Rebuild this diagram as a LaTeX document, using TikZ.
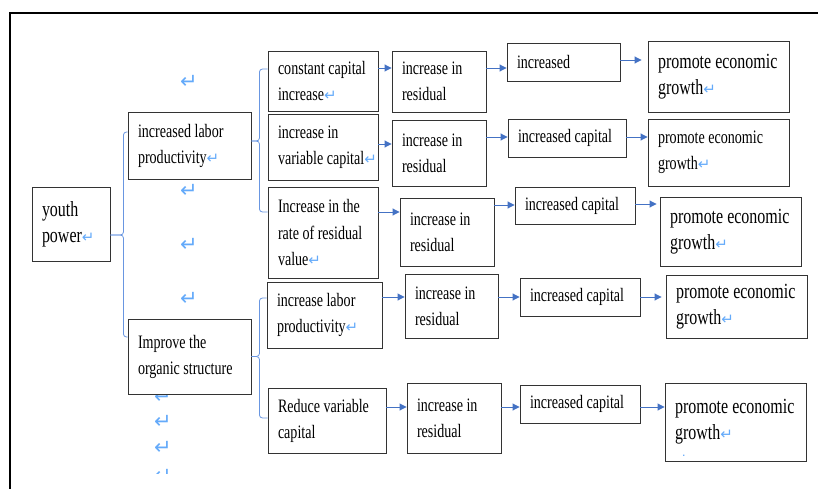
\documentclass[tikz,border=0pt]{standalone}
\usepackage{fontspec}
\setmainfont[FakeStretch=0.74]{Liberation Serif}
\newfontfamily\symfont{DejaVu Sans}
\usetikzlibrary{arrows.meta}

\definecolor{pfeilblau}{RGB}{68,114,196}
\definecolor{klammerblau}{RGB}{105,150,225}
\definecolor{markblau}{RGB}{100,170,250}

\newcommand{\ret}{\rlap{{\symfont\fontsize{15}{15}\selectfont\textcolor{markblau}{↵}}}}

\tikzset{
	feld/.style={draw=black!80, line width=0.9pt, fill=white, align=left, inner xsep=10pt, inner ysep=0pt, font=\fontsize{19}{26}\selectfont, execute at begin node={\spaceskip=0pt\xspaceskip=0pt}},
	gross/.style={font=\fontsize{21.6}{26}\selectfont},
	pfeil/.style={draw=pfeilblau, line width=0.9pt, -{Triangle[length=7pt,width=7pt]}},
	klammer/.style={draw=klammerblau, line width=0.8pt, rounded corners=3pt},
	absatz/.style={text=markblau, font=\symfont\fontsize{21}{21}\selectfont, inner sep=0pt}
}

\begin{document}
\begin{tikzpicture}[x=1pt,y=-1pt]
		\useasboundingbox (0,0) rectangle (818,489);
		%Rahmen
		\draw[line width=1.3pt] (10,489) -- (10,13) -- (818,13);
		%Absatzmarken
		\foreach \y [count=\i] in {82,191,245,299}
			\node[absatz] (ma\i) at (189,\y) {↵};
		\foreach \y [count=\i] in {397,422,448}
			\node[absatz] (mb\i) at (163,\y) {↵};
		\begin{scope}
			\clip (150,460) rectangle (180,473);
			\node[absatz] (mb4) at (163,476) {↵};
		\end{scope}
		% Ebene 1 und 2
		\node[feld, gross, text width=58pt, minimum height=74pt] (jp) at (71,224) {youth\\power\ret};
		\node[feld, text width=103pt, minimum height=67pt] (ilp) at (189.5,145.5) {increased labor\\productivity\ret};
		\node[feld, text width=103pt, minimum height=75pt] (ios) at (189.5,356.5) {Improve the\\organic structure};
		% Ebene 3
		\node[feld, text width=90pt, minimum height=60pt] (r1a) at (323,81) {constant capital\\increase\ret};
		\node[feld, text width=90pt, minimum height=66pt] (r2a) at (323,147) {increase in\\variable capital\ret};
		\node[feld, text width=90pt, minimum height=91pt] (r3a) at (323,232.5) {Increase in the\\rate of residual\\value\ret};
		\node[feld, text width=95pt, minimum height=66pt] (r4a) at (324.5,315) {increase labor\\productivity\ret};
		\node[feld, text width=98pt, minimum height=65pt] (r5a) at (327,420.5) {Reduce variable\\capital};
		% Ebene 4
		\node[feld, text width=74pt, minimum height=61pt] (r1b) at (439,81.5) {increase in\\residual};
		\node[feld, text width=74pt, minimum height=66pt] (r2b) at (439,153) {increase in\\residual};
		\node[feld, text width=74pt, minimum height=68pt] (r3b) at (447,232) {increase in\\residual};
		\node[feld, text width=73pt, minimum height=64pt] (r4b) at (451.5,306) {increase in\\residual};
		\node[feld, text width=74pt, minimum height=70pt] (r5b) at (454,418) {increase in\\residual};
		% Ebene 5
		\node[feld, text width=93pt, minimum height=38pt] (r1c) at (563.5,62) {increased};
		\node[feld, text width=98pt, minimum height=38pt] (r2c) at (567,138) {increased capital};
		\node[feld, text width=100pt, minimum height=37pt] (r3c) at (575,205.5) {increased capital};
		\node[feld, text width=100pt, minimum height=38pt] (r4c) at (580,297) {increased capital};
		\node[feld, text width=100pt, minimum height=38pt] (r5c) at (580,404) {increased capital};
		% Ebene 6
		\node[feld, gross, text width=121pt, minimum height=71pt] (r1d) at (718.5,76.5) {promote economic\\growth\ret};
		\node[feld, text width=121pt, minimum height=67pt] (r2d) at (718.5,152.5) {promote economic\\growth\ret};
		\node[feld, gross, text width=121pt, minimum height=69pt] (r3d) at (730.5,231.5) {promote economic\\growth\ret};
		\node[feld, gross, text width=121pt, minimum height=63pt] (r4d) at (736.5,306.5) {promote economic\\growth\ret};
		\node[feld, gross, text width=121pt, minimum height=78pt] (r5d) at (735.5,422) {promote economic\\growth\ret};
		\begin{scope}
			\clip (r5d.north west) rectangle ([yshift=6pt]r5d.south east);
			\node[absatz, font=\symfont\fontsize{15}{15}\selectfont] (mc1) at (681,460) {↵};
		\end{scope}
		% Klammern
		\draw[klammer] ([yshift=-11pt]jp.east) -- ++(13,0) |- ([yshift=13.5pt]ilp.west);
		\draw[klammer] ([yshift=-11pt]jp.east) -- ++(13,0) |- ([yshift=19.5pt]ios.west);
		\draw[klammer] ([yshift=4.5pt]ilp.east) -- ++(8,0) |- ([yshift=12pt]r1a.west);
		\draw[klammer] ([yshift=4.5pt]ilp.east) -- ++(8,0) |- ([yshift=20.5pt]r3a.west);
		\draw[klammer] (ios.east) -- ++(8,0) |- ([yshift=17pt]r4a.west);
		\draw[klammer] (ios.east) -- ++(8,0) |- ([yshift=2.5pt]r5a.west);
		% Pfeile
		\draw[pfeil] ([yshift=13pt]r1a.east) -- ([yshift=13pt]r1a.east -| r1b.west);
		\draw[pfeil] ([yshift=13.5pt]r1b.east) -- ([yshift=13.5pt]r1b.east -| r1c.west);
		\draw[pfeil, shorten >=6pt] ([yshift=2pt]r1c.east) -- ([yshift=2pt]r1c.east -| r1d.west);
		\draw[pfeil] ([yshift=3pt]r2a.east) -- ([yshift=3pt]r2a.east -| r2b.west);
		\draw[pfeil] ([yshift=16pt]r2b.east) -- ([yshift=16pt]r2b.east -| r2c.west);
		\draw[pfeil] ([yshift=1pt]r2c.east) -- ([yshift=1pt]r2c.east -| r2d.west);
		\draw[pfeil] ([yshift=20.5pt]r3a.east) -- ([yshift=20.5pt]r3a.east -| r3b.west);
		\draw[pfeil] ([yshift=27pt]r3b.east) -- ([yshift=27pt]r3b.east -| r3c.west);
		\draw[pfeil, shorten >=3pt] ([yshift=1.5pt]r3c.east) -- ([yshift=1.5pt]r3c.east -| r3d.west);
		\draw[pfeil] ([yshift=18pt]r4a.east) -- ([yshift=18pt]r4a.east -| r4b.west);
		\draw[pfeil] ([yshift=9pt]r4b.east) -- ([yshift=9pt]r4b.east -| r4c.west);
		\draw[pfeil, shorten >=4pt] (r4c.east) -- (r4c.east -| r4d.west);
		\draw[pfeil] ([yshift=13.5pt]r5a.east) -- ([yshift=13.5pt]r5a.east -| r5b.west);
		\draw[pfeil] ([yshift=11pt]r5b.east) -- ([yshift=11pt]r5b.east -| r5c.west);
		\draw[pfeil] ([yshift=-3pt]r5c.east) -- ([yshift=-3pt]r5c.east -| r5d.west);
\end{tikzpicture}
\end{document}
